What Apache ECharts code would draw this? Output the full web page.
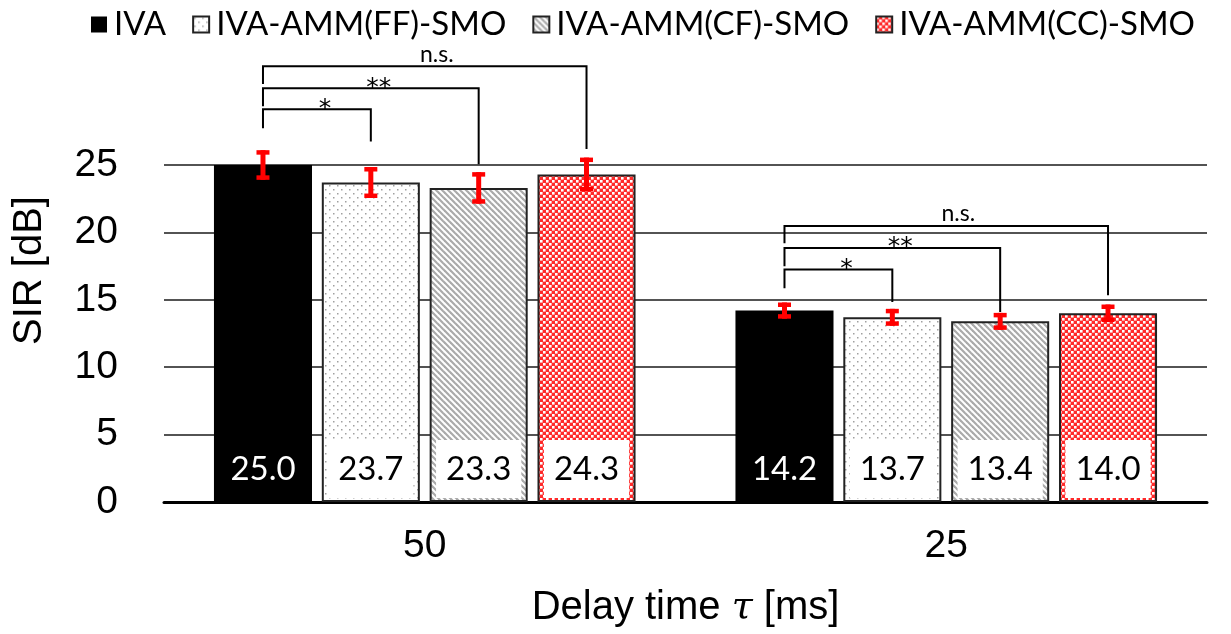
<!DOCTYPE html>
<html>
<head>
<meta charset="utf-8">
<script src="https://cdn.jsdelivr.net/npm/echarts@6/dist/echarts.min.js"></script>
<style>
  html, body { margin: 0; padding: 0; background: #fff; }
  #chart { width: 1231px; height: 634px; }
</style>
</head>
<body>
<div id="chart"></div>
<script>
const categories = ['50', '25'];
const seriesNames = ['IVA', 'IVA-AMM(FF)-SMO', 'IVA-AMM(CF)-SMO', 'IVA-AMM(CC)-SMO'];
const sirIVA = [25.0, 14.2];
const sirFF = [23.7, 13.7];
const sirCF = [23.3, 13.4];
const sirCC = [24.3, 14.0];
const errIVA = [1.1, 0.6];
const errFF = [1.15, 0.63];
const errCF = [1.17, 0.63];
const errCC = [1.25, 0.65];
const yTicks = [0, 5, 10, 15, 20, 25];

// significance brackets (IVA vs bar "sigTo" in each delay group), heights in dB
const sigCategory = [0, 0, 0, 1, 1, 1];
const sigTo = [1, 2, 3, 1, 2, 3];
const sigMark = ['*', '**', 'n.s.', '*', '**', 'n.s.'];
const sigTop = [29.14, 30.70, 32.33, 17.25, 18.85, 20.48];
const sigLeftFoot = [27.73, 29.36, 31.0, 15.86, 17.49, 19.2];
const sigRightFoot = [26.74, 25.06, 26.18, 14.84, 14.1, 15.34];

const BAR_W = 0.188;
const BAR_GAP = 0.1;
const BAR_STEP = BAR_W * (1 + BAR_GAP);

function pattern(size, draw) {
  const c = document.createElement('canvas');
  c.width = c.height = size;
  const ctx = c.getContext('2d');
  draw(ctx, size);
  return { image: c, repeat: 'repeat' };
}

// dotted (FF)
const dots = pattern(8, (ctx, s) => {
  ctx.fillStyle = '#fff'; ctx.fillRect(0, 0, s, s);
  ctx.fillStyle = '#a0a0a0';
  ctx.fillRect(1, 1, 1.5, 1.5);
  ctx.fillRect(5, 5, 1.5, 1.5);
});
// diagonal stripes (CF)
const stripes = pattern(6, (ctx, s) => {
  ctx.fillStyle = '#fff'; ctx.fillRect(0, 0, s, s);
  ctx.strokeStyle = '#aaaaaa'; ctx.lineWidth = 2.2;
  for (let k = -1; k <= 1; k++) {
    ctx.beginPath(); ctx.moveTo(-1, k * s - 1); ctx.lineTo(s + 1, s + k * s + 1); ctx.stroke();
  }
});
// red check (CC)
const redCheck = pattern(6, (ctx, s) => {
  ctx.fillStyle = '#ff2a2a'; ctx.fillRect(0, 0, s, s);
  ctx.fillStyle = '#fff';
  ctx.fillRect(0, 0, 2.6, 2.6);
  ctx.fillRect(3, 3, 2.6, 2.6);
});

const values = [sirIVA, sirFF, sirCF, sirCC];
const errors = [errIVA, errFF, errCF, errCC];
const fills = ['#000', dots, stripes, redCheck];

const barSeries = values.map((v, i) => ({
  name: seriesNames[i],
  type: 'bar',
  data: v,
  barWidth: (BAR_W * 100) + '%',
  barGap: (BAR_GAP * 100) + '%',
  itemStyle: {
    color: fills[i],
    borderColor: i ? '#222' : '#000',
    borderWidth: i ? 2 : 0
  },
  label: {
    show: true,
    position: 'insideBottom',
    distance: 4,
    formatter: p => p.value.toFixed(1),
    fontFamily: 'Lato',
    fontSize: 33,
    color: i ? '#000' : '#fff',
    backgroundColor: i ? '#fff' : 'transparent',
    padding: [13, 10, 12, 10]
  },
  emphasis: { disabled: true }
}));

const errData = [];
values.forEach((v, i) => v.forEach((val, c) => errData.push([c, i, val, errors[i][c]])));

const sigData = sigCategory.map((c, k) => [c, sigTo[k], sigTop[k], sigLeftFoot[k], sigRightFoot[k]]);

function barX(api, cat, idx) {
  const band = api.size([1, 0])[0];
  return api.coord([cat, 0])[0] + (idx - 1.5) * band * BAR_STEP;
}

const chart = echarts.init(document.getElementById('chart'));
chart.setOption({
  animation: false,
  legend: {
    data: seriesNames,
    top: 3,
    left: 86,
    icon: 'rect',
    itemWidth: 16,
    itemHeight: 16,
    itemGap: 26,
    selectedMode: false,
    textStyle: { fontFamily: 'Lato', fontSize: 33, color: '#000', padding: [0, 0, 0, 2] }
  },
  grid: { left: 164, right: 24, top: 165, bottom: 132 },
  xAxis: {
    type: 'category',
    data: categories,
    axisTick: { show: false },
    axisLine: { show: true, lineStyle: { color: '#000', width: 3 } },
    axisLabel: { margin: 25, fontFamily: 'Liberation Sans', fontSize: 39, color: '#000' },
    name: 'Delay time {t|τ} [ms]',
    nameLocation: 'middle',
    nameGap: 86,
    nameTextStyle: {
      fontFamily: 'Liberation Sans', fontSize: 40, color: '#000',
      rich: { t: { fontFamily: 'DejaVu Serif', fontStyle: 'italic', fontSize: 38, color: '#000' } }
    }
  },
  yAxis: {
    type: 'value',
    min: yTicks[0],
    max: yTicks[yTicks.length - 1],
    interval: yTicks[1] - yTicks[0],
    axisLine: { show: false },
    axisTick: { show: false },
    splitLine: { lineStyle: { color: '#1a1a1a', width: 1.5 } },
    axisLabel: { margin: 46, fontFamily: 'Liberation Sans', fontSize: 39, color: '#000' },
    name: 'SIR [dB]',
    nameLocation: 'middle',
    nameGap: 114,
    nameTextStyle: {
      fontFamily: 'Liberation Sans', fontSize: 40, color: '#000',
      padding: [0, 0, 0, 126]
    }
  },
  series: barSeries.concat([
    {
      type: 'custom',
      name: 'err',
      data: errData,
      encode: { x: 0, y: 2 },
      clip: false,
      silent: true,
      z: 5,
      renderItem(params, api) {
        const x = barX(api, api.value(0), api.value(1));
        const yTop = api.coord([api.value(0), api.value(2) + api.value(3)])[1];
        const yBot = api.coord([api.value(0), api.value(2) - api.value(3)])[1];
        const st = { fill: '#ff0000' };
        return {
          type: 'group',
          children: [
            { type: 'rect', shape: { x: x - 2.5, y: yTop, width: 5, height: yBot - yTop }, style: st },
            { type: 'rect', shape: { x: x - 6.5, y: yTop, width: 13, height: 4.5 }, style: st },
            { type: 'rect', shape: { x: x - 6.5, y: yBot - 4.5, width: 13, height: 4.5 }, style: st }
          ]
        };
      }
    },
    {
      type: 'custom',
      name: 'sig',
      data: sigData,
      encode: { x: 0, y: 2 },
      clip: false,
      silent: true,
      z: 6,
      renderItem(params, api) {
        const cat = api.value(0);
        const x0 = barX(api, cat, 0);
        const x1 = barX(api, cat, api.value(1));
        const yTop = api.coord([cat, api.value(2)])[1];
        const yL = api.coord([cat, api.value(3)])[1];
        const yR = api.coord([cat, api.value(4)])[1];
        const mark = sigMark[params.dataIndex];
        const ns = mark === 'n.s.';
        return {
          type: 'group',
          children: [
            {
              type: 'polyline',
              shape: { points: [[x0, yL], [x0, yTop], [x1, yTop], [x1, yR]] },
              style: { stroke: '#000', lineWidth: 2, fill: null }
            },
            {
              type: 'text',
              x: (x0 + x1) / 2 + (ns ? 12 : 8),
              y: yTop - (ns ? 12 : 0),
              style: {
                text: mark,
                fontFamily: ns ? 'Lato' : 'DejaVu Sans',
                fontSize: ns ? 23 : 25,
                fill: '#000',
                align: 'center', verticalAlign: 'middle'
              }
            }
          ]
        };
      }
    }
  ])
});
</script>
</body>
</html>
